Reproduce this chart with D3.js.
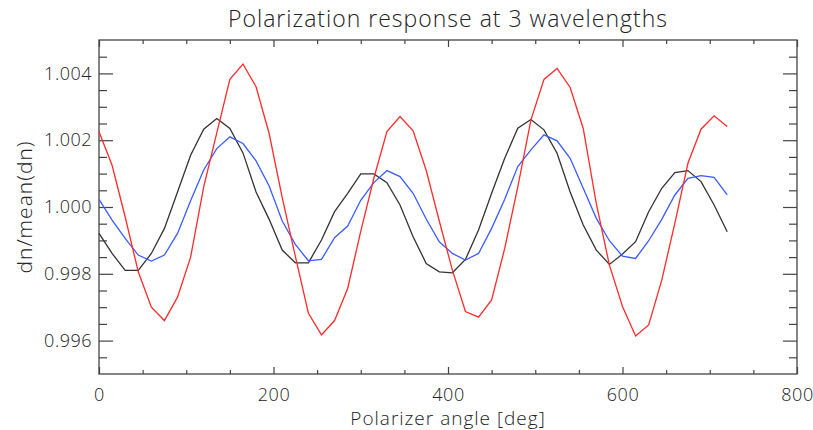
<!DOCTYPE html>
<html>
<head>
<meta charset="utf-8">
<script src="https://cdn.jsdelivr.net/npm/d3@7"></script>
<style>
    body { margin: 0; background: #fff; }
    svg { display: block; }
    text { font-family: "Open Sans", "DejaVu Sans", sans-serif; font-weight: 300; fill: #222; }
    .axis line { stroke: #444; stroke-width: 1.2; }
    .axis path { display: none; }
</style>
</head>
<body>
<div id="chart"></div>
<script>
// polarizer angles [deg]
const angles = [0, 15, 30, 45, 60, 75, 90, 105, 120, 135, 150, 165, 180, 195, 210, 225, 240,
    255, 270, 285, 300, 315, 330, 345, 360, 375, 390, 405, 420, 435, 450, 465, 480, 495,
    510, 525, 540, 555, 570, 585, 600, 615, 630, 645, 660, 675, 690, 705, 720];

// dn/mean(dn) at the three wavelengths
const blackVals = [0.99921, 0.99861, 0.99810, 0.99810, 0.99861, 0.99936, 1.00045, 1.00155,
    1.00233, 1.00265, 1.00235, 1.00162, 1.00045, 0.99963, 0.99871, 0.99833, 0.99833,
    0.99901, 0.99986, 1.00041, 1.00099, 1.00099, 1.00073, 1.00006, 0.99911, 0.99831,
    0.99806, 0.99803, 0.99843, 0.99931, 1.00041, 1.00146, 1.00236, 1.00262, 1.00231,
    1.00161, 1.00045, 0.99946, 0.99871, 0.99828, 0.99859, 0.99896, 0.99986, 1.00056,
    1.00103, 1.00109, 1.00076, 1.00006, 0.99926];

const blueVals = [1.00023, 0.99961, 0.99906, 0.99856, 0.99838, 0.99856, 0.99921, 1.00019,
    1.00111, 1.00175, 1.00210, 1.00190, 1.00138, 1.00063, 0.99958, 0.99888, 0.99839,
    0.99843, 0.99908, 0.99943, 1.00020, 1.00073, 1.00109, 1.00091, 1.00041, 0.99964,
    0.99896, 0.99861, 0.99841, 0.99861, 0.99936, 1.00023, 1.00121, 1.00171, 1.00216,
    1.00198, 1.00146, 1.00056, 0.99966, 0.99899, 0.99853, 0.99846, 0.99899, 0.99963,
    1.00036, 1.00086, 1.00094, 1.00089, 1.00036];

const redVals = [1.00225, 1.00125, 0.99970, 0.99806, 0.99700, 0.99660, 0.99730, 0.99850,
    1.00060, 1.00222, 1.00382, 1.00428, 1.00360, 1.00220, 1.00028, 0.99853, 0.99682,
    0.99617, 0.99660, 0.99756, 0.99927, 1.00086, 1.00226, 1.00271, 1.00228, 1.00110,
    0.99958, 0.99811, 0.99687, 0.99670, 0.99722, 0.99876, 1.00060, 1.00260, 1.00382,
    1.00415, 1.00358, 1.00235, 1.00010, 0.99826, 0.99702, 0.99614, 0.99647, 0.99781,
    0.99952, 1.00131, 1.00233, 1.00273, 1.00241];

const seriesNames = ["black", "blue", "red"];
const seriesColors = ["#333333", "#3a5cff", "#ff2a2a"];

const xMajor = [0, 200, 400, 600, 800];
const xMinor = [50, 100, 150, 250, 300, 350, 450, 500, 550, 650, 700, 750];
const yMajor = [0.996, 0.998, 1.000, 1.002, 1.004];
const yMinor = [0.9955, 0.9965, 0.997, 0.9975, 0.9985, 0.999, 0.9995, 1.0005, 1.001,
    1.0015, 1.0025, 1.003, 1.0035, 1.0045];

const titleText = "Polarization response at 3 wavelengths";
const xLabel = "Polarizer angle [deg]";
const yLabel = "dn/mean(dn)";

const W = 813, H = 430;
const margin = {top: 40, right: 16, bottom: 56, left: 99};
const width = W - margin.left - margin.right;
const height = H - margin.top - margin.bottom;

const svg = d3.select("#chart").append("svg")
    .attr("width", W)
    .attr("height", H);

const g = svg.append("g")
    .attr("transform", `translate(${margin.left},${margin.top})`);

const x = d3.scaleLinear().domain([0, 800]).range([0, width]);
const y = d3.scaleLinear().domain([0.995, 1.005]).range([height, 0]);

// bottom + top axes (ticks point inward)
g.append("g").attr("class", "axis")
    .attr("transform", `translate(0,${height})`)
    .call(d3.axisBottom(x).tickValues(xMajor).tickSize(-7).tickPadding(14).tickFormat(d3.format("d")))
    .selectAll("text").style("font-size", "18px").style("letter-spacing", "0.5px");
g.append("g").attr("class", "axis")
    .attr("transform", `translate(0,${height})`)
    .call(d3.axisBottom(x).tickValues(xMinor).tickSize(-4).tickFormat(""));
g.append("g").attr("class", "axis")
    .call(d3.axisTop(x).tickValues(xMajor).tickSize(-7).tickFormat(""));
g.append("g").attr("class", "axis")
    .call(d3.axisTop(x).tickValues(xMinor).tickSize(-4).tickFormat(""));

// left + right axes
g.append("g").attr("class", "axis")
    .call(d3.axisLeft(y).tickValues(yMajor).tickSize(-14).tickPadding(7).tickFormat(d3.format(".3f")))
    .selectAll("text").style("font-size", "18px").style("letter-spacing", "0.5px");
g.append("g").attr("class", "axis")
    .call(d3.axisLeft(y).tickValues(yMinor).tickSize(-8).tickFormat(""));
g.append("g").attr("class", "axis")
    .attr("transform", `translate(${width},0)`)
    .call(d3.axisRight(y).tickValues(yMajor).tickSize(-14).tickFormat(""));
g.append("g").attr("class", "axis")
    .attr("transform", `translate(${width},0)`)
    .call(d3.axisRight(y).tickValues(yMinor).tickSize(-8).tickFormat(""));

// frame
g.append("rect")
    .attr("width", width)
    .attr("height", height)
    .attr("fill", "none")
    .attr("stroke", "#444")
    .attr("stroke-width", 1.3);

const line = d3.line()
    .x((d, i) => x(angles[i]))
    .y(d => y(d));

[blackVals, blueVals, redVals].forEach((vals, i) => {
    g.append("path")
        .datum(vals)
        .attr("class", "series-" + seriesNames[i])
        .attr("fill", "none")
        .attr("stroke", seriesColors[i])
        .attr("stroke-width", 1.3)
        .attr("d", line);
});

// title and axis labels
svg.append("text")
    .attr("x", margin.left + width / 2)
    .attr("y", 27)
    .attr("text-anchor", "middle")
    .style("font-size", "23px")
    .style("letter-spacing", "1px")
    .text(titleText);

svg.append("text")
    .attr("x", margin.left + width / 2)
    .attr("y", 425)
    .attr("text-anchor", "middle")
    .style("font-size", "19px")
    .style("letter-spacing", "1px")
    .text(xLabel);

svg.append("text")
    .attr("transform", `translate(32,${margin.top + height / 2}) rotate(-90)`)
    .attr("text-anchor", "middle")
    .style("font-size", "21px")
    .style("letter-spacing", "1px")
    .text(yLabel);
</script>
</body>
</html>
